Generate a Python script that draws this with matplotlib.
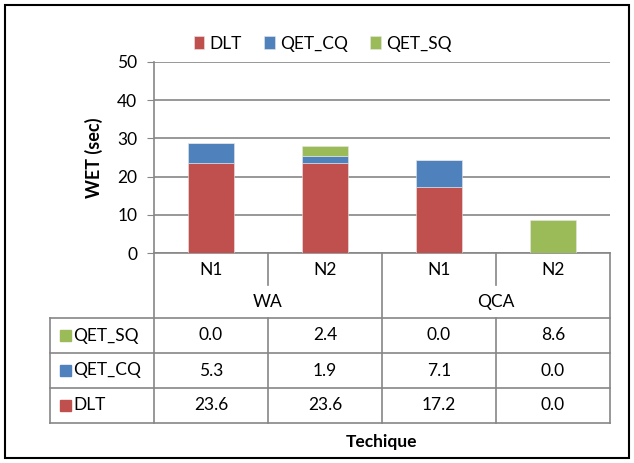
import matplotlib.pyplot as plt
from matplotlib.patches import Rectangle
import numpy as np

plt.rcParams['font.family'] = ['Lato', 'DejaVu Sans']

# data
nodes = ['N1', 'N2', 'N1', 'N2']
techniques = ['WA', 'QCA']
series = ['DLT', 'QET_CQ', 'QET_SQ']
dlt = [23.6, 23.6, 17.2, 0.0]
qet_cq = [5.3, 1.9, 7.1, 0.0]
qet_sq = [0.0, 2.4, 0.0, 8.6]
colors = ['#C0504D', '#4F81BD', '#9BBB59']
grid_c = '#868686'
fs = 12.5

W, H = 634, 463
fig = plt.figure(figsize=(W / 100, H / 100), dpi=100)

# plot area in pixels
L, R, T, B = 154, 610, 62, 253
ax = fig.add_axes([L / W, 1 - B / H, (R - L) / W, (B - T) / H])

x = np.arange(len(nodes))
bottom = np.zeros(len(nodes))
for name, vals, c in zip(series, [dlt, qet_cq, qet_sq], colors):
    ax.bar(x, vals, 0.4, bottom=bottom, color=c, label=name,
           edgecolor='#e8e8e8', linewidth=0.4, zorder=3)
    bottom += np.array(vals)

ax.set_xlim(-0.5, len(nodes) - 0.5)
ax.set_ylim(0, 50)
ax.set_yticks(range(0, 51, 10))
ax.tick_params(axis='y', length=5, color=grid_c, labelsize=fs, pad=7)
ax.set_xticks([])
ax.yaxis.grid(True, color=grid_c, linewidth=1.2, zorder=0)
for s in ['top', 'right']:
    ax.spines[s].set_visible(False)
ax.spines['left'].set_color(grid_c)
ax.spines['bottom'].set_color(grid_c)
ax.spines['left'].set_linewidth(1.2)
ax.spines['bottom'].set_linewidth(1.2)
ax.set_ylabel('WET (sec)', fontsize=13, fontweight='bold', labelpad=10)

ax.legend(loc='lower center', bbox_to_anchor=(0.37, 1.0), ncol=3, frameon=False,
          fontsize=fs, handlelength=0.6, handleheight=0.7, handletextpad=0.3,
          columnspacing=1.3, borderaxespad=0.2)

# overlay in pixel coords for the data table
ov = fig.add_axes([0, 0, 1, 1])
ov.set_xlim(0, W)
ov.set_ylim(H, 0)
ov.axis('off')
ov.add_patch(Rectangle((5, 5), 624, 453, fill=False, edgecolor='black', linewidth=1.5))

cw = (R - L) / len(nodes)
cols = [L + i * cw for i in range(len(nodes) + 1)]
tab_l = 50
rows = [318, 353, 388, 423]
lc = grid_c
lw = 1.2

# category label rows
for i, n in enumerate(nodes):
    ov.text(cols[i] + cw / 2, 270, n, ha='center', va='center', fontsize=fs)
for j, t in enumerate(techniques):
    ov.text(cols[2 * j] + cw, 302, t, ha='center', va='center', fontsize=fs)
for i in [0, 2, 4]:
    ov.plot([cols[i], cols[i]], [B, rows[-1]], color=lc, lw=lw)
for i in [1, 3]:
    ov.plot([cols[i], cols[i]], [B, 285], color=lc, lw=lw)
    ov.plot([cols[i], cols[i]], [rows[0], rows[-1]], color=lc, lw=lw)
for y in rows:
    ov.plot([tab_l, R], [y, y], color=lc, lw=lw)
ov.plot([tab_l, tab_l], [rows[0], rows[-1]], color=lc, lw=lw)

# table rows (top to bottom: QET_SQ, QET_CQ, DLT)
table = list(zip(series, [dlt, qet_cq, qet_sq], colors))[::-1]
for r, (name, vals, c) in enumerate(table):
    yc = (rows[r] + rows[r + 1]) / 2
    ov.add_patch(Rectangle((60, yc - 5.5), 11, 11, color=c))
    ov.text(73, yc, name, ha='left', va='center', fontsize=fs)
    for i, v in enumerate(vals):
        ov.text(cols[i] + cw / 2, yc, f'{v:.1f}', ha='center', va='center', fontsize=fs)

ov.text((L + R) / 2, 442, 'Techique', ha='center', va='center', fontsize=fs, fontweight='bold')

fig.savefig('out.png', dpi=100)
